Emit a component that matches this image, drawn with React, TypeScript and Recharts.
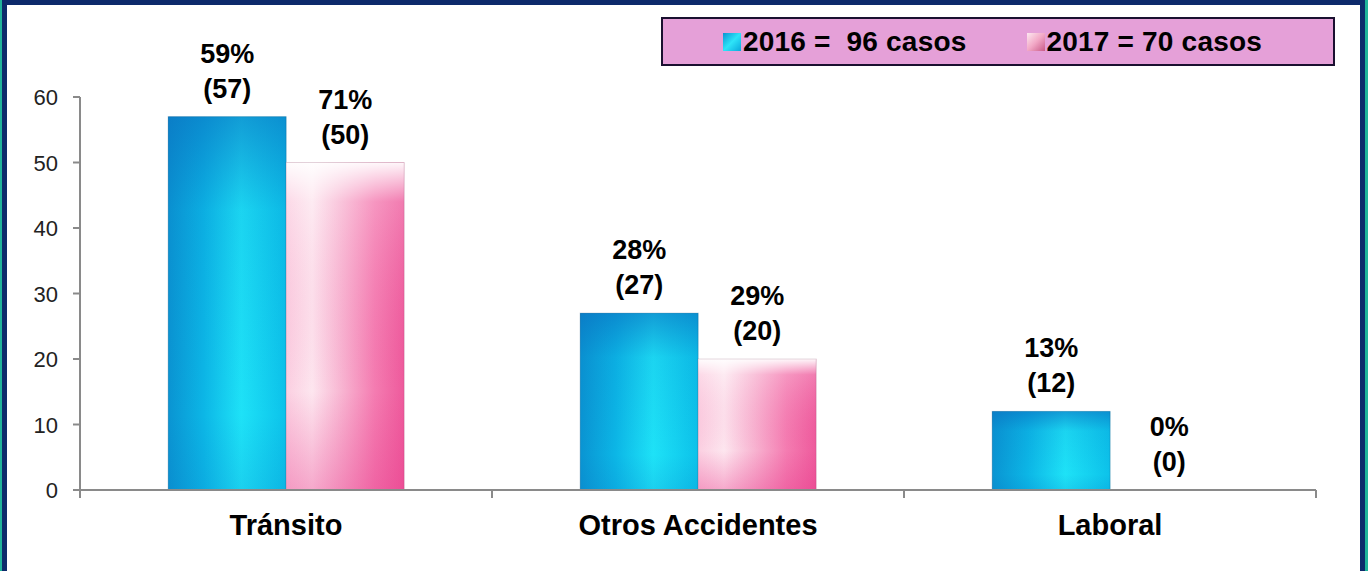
import React from 'react';
import { BarChart, Bar, XAxis, YAxis, Legend, LabelList } from 'recharts';

const categories = ['Tránsito', 'Otros Accidentes', 'Laboral'];
const cases2016 = [57, 27, 12];
const cases2017 = [50, 20, 0];
const pct2016 = [59, 28, 13];
const pct2017 = [71, 29, 0];
const yTicks = [0, 10, 20, 30, 40, 50, 60];
const legendLabels = ['2016 =  96 casos', '2017 = 70 casos'];

const data = categories.map((name, i) => ({
  name,
  y2016: cases2016[i],
  y2017: cases2017[i],
}));

const FONT = '"Liberation Sans", Arial, sans-serif';
const NAVY = '#0d2a6b';
const TEAL = '#20b39a';

function BlueBar(props: any) {
  const { x, y, width, height } = props;
  if (!height || height <= 0) return null;
  return (
    <g>
      <rect x={x} y={y} width={width} height={height} fill="url(#blueH)" />
      <rect x={x} y={y} width={width} height={height} fill="url(#blueV)" />
      <rect x={x} y={y} width={width} height={height} fill="none" stroke="rgba(0,60,110,0.25)" />
    </g>
  );
}

function PinkBar(props: any) {
  const { x, y, width, height } = props;
  if (!height || height <= 0) return null;
  return (
    <g>
      <rect x={x} y={y} width={width} height={height} fill="url(#pinkH)" />
      <rect x={x} y={y} width={width} height={height} fill="url(#pinkV)" />
      <rect x={x} y={y} width={width} height={height} fill="none" stroke="rgba(120,60,90,0.2)" />
    </g>
  );
}

function makeLabel(pcts: number[]) {
  return (props: any) => {
    const { x, y, width, index, value } = props;
    const cx = x + width / 2;
    return (
      <g>
        <text x={cx} y={y - 54} textAnchor="middle" fontFamily={FONT} fontWeight="bold" fontSize={27} fill="#000">
          {`${pcts[index]}%`}
        </text>
        <text x={cx} y={y - 19} textAnchor="middle" fontFamily={FONT} fontWeight="bold" fontSize={27} fill="#000">
          {`(${value})`}
        </text>
      </g>
    );
  };
}

function CategoryTick(props: any) {
  const { x, y, payload, index, width, visibleTicksCount } = props;
  const band = (width || 1236) / (visibleTicksCount || categories.length);
  const last = index === (visibleTicksCount || categories.length) - 1;
  return (
    <g>
      <line x1={x - band / 2} x2={x - band / 2} y1={y} y2={y + 8} stroke="#8a8a8a" strokeWidth={2} />
      {last && <line x1={x + band / 2} x2={x + band / 2} y1={y} y2={y + 8} stroke="#8a8a8a" strokeWidth={2} />}
      <text x={x} y={y + 45} textAnchor="middle" fontFamily={FONT} fontWeight="bold" fontSize={29} fill="#000">
        {payload.value}
      </text>
    </g>
  );
}

function YTick(props: any) {
  const { x, y, payload } = props;
  return (
    <text x={x} y={y} dy={8} textAnchor="end" fontFamily={FONT} fontSize={22} fill="#222">
      {payload.value}
    </text>
  );
}

function LegendBox() {
  const icons = ['url(#blueIcon)', 'url(#pinkIcon)'];
  return (
    <div
      style={{
        width: 674,
        height: 49,
        boxSizing: 'border-box',
        background: '#e5a0d8',
        border: '2px solid #1a1030',
        display: 'flex',
        alignItems: 'center',
        paddingLeft: 60,
        fontFamily: FONT,
        fontWeight: 'bold',
        fontSize: 28,
        letterSpacing: 0.2,
        color: '#000',
      }}
    >
      {legendLabels.map((label, i) => (
        <span key={label} style={{ display: 'flex', alignItems: 'center', marginRight: i === 0 ? 60 : 0 }}>
          <svg width={18} height={18} style={{ marginRight: 2 }}>
            <rect x={0} y={0} width={18} height={18} fill={icons[i]} />
          </svg>
          <span style={{ whiteSpace: 'pre' }}>{label}</span>
        </span>
      ))}
    </div>
  );
}

export default function App() {
  return (
    <div
      style={{
        position: 'absolute',
        top: 0,
        left: 0,
        width: 1368,
        height: 571,
        background: '#fff',
        overflow: 'hidden',
      }}
    >
      <div
        style={{
          position: 'absolute',
          inset: 0,
          boxSizing: 'border-box',
          borderLeft: `2px solid ${TEAL}`,
          borderRight: `3px solid ${TEAL}`,
        }}
      >
        <div
          style={{
            position: 'absolute',
            inset: 0,
            boxSizing: 'border-box',
            borderTop: `5px solid ${NAVY}`,
            borderLeft: `5px solid ${NAVY}`,
            borderRight: `5px solid ${NAVY}`,
          }}
        />
      </div>
      <div style={{ position: 'absolute', top: 0, left: 0 }}>
        <BarChart
          width={1368}
          height={571}
          data={data}
          margin={{ top: 97, right: 52, left: 0, bottom: 0 }}
          barCategoryGap="21.4%"
          barGap={0}
        >
          <defs>
            <linearGradient id="blueH" x1="0" y1="0" x2="1" y2="0">
              <stop offset="0" stopColor="#0a94d2" />
              <stop offset="0.3" stopColor="#0cb6e6" />
              <stop offset="0.62" stopColor="#1ee2f7" />
              <stop offset="1" stopColor="#0cc2ea" />
            </linearGradient>
            <linearGradient id="blueV" x1="0" y1="0" x2="0" y2="1">
              <stop offset="0" stopColor="#0a6fc0" stopOpacity="0.6" />
              <stop offset="0.25" stopColor="#0a6fc0" stopOpacity="0.12" />
              <stop offset="0.8" stopColor="#0a6fc0" stopOpacity="0" />
              <stop offset="1" stopColor="#0a6fc0" stopOpacity="0.15" />
            </linearGradient>
            <linearGradient id="pinkH" x1="0" y1="0" x2="1" y2="0">
              <stop offset="0" stopColor="#fbcfe1" />
              <stop offset="0.22" stopColor="#fde6ef" />
              <stop offset="0.45" stopColor="#f8b9d4" />
              <stop offset="0.75" stopColor="#f47cb1" />
              <stop offset="1" stopColor="#ee5a9c" />
            </linearGradient>
            <linearGradient id="pinkV" x1="0" y1="0" x2="0" y2="1">
              <stop offset="0" stopColor="#ffffff" stopOpacity="0.95" />
              <stop offset="0.12" stopColor="#ffffff" stopOpacity="0.2" />
              <stop offset="0.7" stopColor="#e8378a" stopOpacity="0" />
              <stop offset="1" stopColor="#e8378a" stopOpacity="0.35" />
            </linearGradient>
            <linearGradient id="blueIcon" x1="0" y1="0" x2="1" y2="1">
              <stop offset="0" stopColor="#0a94d2" />
              <stop offset="0.5" stopColor="#2ee4f8" />
              <stop offset="1" stopColor="#0aa8dc" />
            </linearGradient>
            <linearGradient id="pinkIcon" x1="0" y1="0" x2="1" y2="1">
              <stop offset="0" stopColor="#fde8f0" />
              <stop offset="0.5" stopColor="#f2a8c6" />
              <stop offset="1" stopColor="#c95a88" />
            </linearGradient>
          </defs>
          <XAxis
            dataKey="name"
            height={81}
            tickLine={false}
            tickSize={0}
            tickMargin={0}
            axisLine={{ stroke: '#8a8a8a', strokeWidth: 2 }}
            tick={<CategoryTick />}
            interval={0}
          />
          <YAxis
            width={80}
            domain={[0, 60]}
            ticks={yTicks}
            allowDecimals={false}
            tickSize={7}
            tickMargin={15}
            axisLine={{ stroke: '#8a8a8a', strokeWidth: 2 }}
            tickLine={{ stroke: '#8a8a8a', strokeWidth: 2 }}
            tick={<YTick />}
          />
          <Legend
            layout="vertical"
            align="center"
            verticalAlign="middle"
            wrapperStyle={{ top: 17, left: 661, width: 674, height: 49 }}
            content={() => <LegendBox />}
          />
          <Bar dataKey="y2016" name="2016" shape={<BlueBar />} isAnimationActive={false}>
            <LabelList dataKey="y2016" content={makeLabel(pct2016)} />
          </Bar>
          <Bar dataKey="y2017" name="2017" shape={<PinkBar />} isAnimationActive={false}>
            <LabelList dataKey="y2017" content={makeLabel(pct2017)} />
          </Bar>
        </BarChart>
      </div>
    </div>
  );
}
